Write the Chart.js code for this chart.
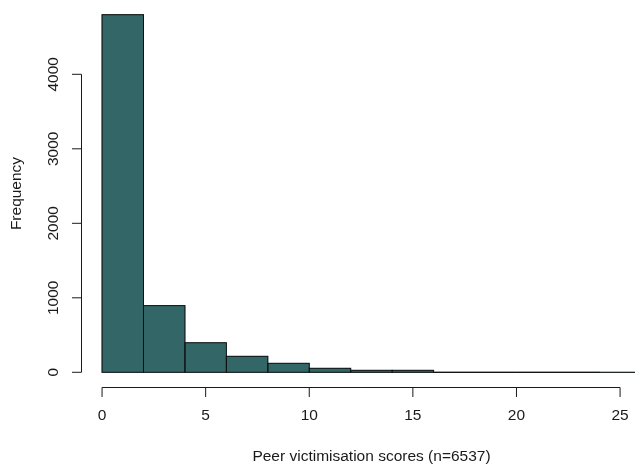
<!DOCTYPE html>
<html>
<head>
<meta charset="utf-8">
<title>Peer victimisation scores</title>
<script src="https://cdn.jsdelivr.net/npm/chart.js@4/dist/chart.umd.min.js"></script>
<style>
  html, body { margin: 0; padding: 0; background: #ffffff; overflow: hidden; }
  canvas { display: block; }
</style>
</head>
<body>
<canvas id="hist" width="635" height="471"></canvas>
<script>
// Histogram bins (lower/upper edges) and frequencies
const binEdges = [0, 2, 4, 6, 8, 10, 12, 14, 16, 18, 20, 22, 24, 26];
const frequencies = [4800, 895, 397, 215, 121, 54, 27, 27, 0, 0, 0, 0, 1];
const xTickValues = [0, 5, 10, 15, 20, 25];
const yTickValues = [0, 1000, 2000, 3000, 4000];
const xTitle = 'Peer victimisation scores (n=6537)';
const yTitle = 'Frequency';

const FONT = '15.5px "Liberation Sans", Arial, sans-serif';
const INK = '#1a1a1a';

const barPoints = frequencies.map((f, i) => ({
  x: (binEdges[i] + binEdges[i + 1]) / 2,
  y: f
}));

// Base-graphics style axes, bar outlines and titles
const histAxes = {
  id: 'histAxes',
  afterDatasetsDraw(chart) {
    const ctx = chart.ctx;
    const xs = chart.scales.x;
    const ys = chart.scales.y;
    const area = chart.chartArea;
    ctx.save();

    // bar outlines (zero-height bins show as a line on the baseline)
    ctx.strokeStyle = '#111111';
    ctx.lineWidth = 1;
    const base = ys.getPixelForValue(0);
    frequencies.forEach((f, i) => {
      const x0 = xs.getPixelForValue(binEdges[i]);
      const x1 = xs.getPixelForValue(binEdges[i + 1]);
      const top = ys.getPixelForValue(f);
      ctx.strokeRect(x0, top, x1 - x0, base - top);
    });

    ctx.strokeStyle = INK;
    ctx.fillStyle = INK;
    ctx.font = FONT;

    // y axis
    const ax = Math.round(area.left) + 0.5;
    const tick = 9.5;
    ctx.beginPath();
    ctx.moveTo(ax, ys.getPixelForValue(yTickValues[0]));
    ctx.lineTo(ax, ys.getPixelForValue(yTickValues[yTickValues.length - 1]));
    yTickValues.forEach(v => {
      const py = ys.getPixelForValue(v);
      ctx.moveTo(ax, py);
      ctx.lineTo(ax - tick, py);
    });
    ctx.stroke();
    ctx.textAlign = 'center';
    ctx.textBaseline = 'middle';
    yTickValues.forEach(v => {
      const py = ys.getPixelForValue(v);
      ctx.save();
      ctx.translate(ax - 28, py);
      ctx.rotate(-Math.PI / 2);
      ctx.fillText(String(v), 0, 0);
      ctx.restore();
    });

    // x axis
    const ay = Math.round(area.bottom) + 0.5;
    ctx.beginPath();
    ctx.moveTo(xs.getPixelForValue(xTickValues[0]), ay);
    ctx.lineTo(xs.getPixelForValue(xTickValues[xTickValues.length - 1]), ay);
    xTickValues.forEach(v => {
      const px = xs.getPixelForValue(v);
      ctx.moveTo(px, ay);
      ctx.lineTo(px, ay + tick);
    });
    ctx.stroke();
    xTickValues.forEach(v => {
      ctx.fillText(String(v), xs.getPixelForValue(v), ay + 28.5);
    });

    // axis titles
    ctx.fillText(xTitle, 371.5, 457);
    ctx.save();
    ctx.translate(17, (area.top + area.bottom) / 2);
    ctx.rotate(-Math.PI / 2);
    ctx.fillText(yTitle, 0, 0);
    ctx.restore();

    ctx.restore();
  }
};

new Chart(document.getElementById('hist'), {
  type: 'bar',
  data: {
    datasets: [{
      data: barPoints,
      backgroundColor: '#336666',
      borderWidth: 0,
      barPercentage: 1,
      categoryPercentage: 1
    }]
  },
  options: {
    responsive: false,
    devicePixelRatio: 1,
    animation: false,
    events: [],
    layout: { padding: { left: 80.5, right: 0, top: 0.4, bottom: 84.4 } },
    plugins: { legend: { display: false }, tooltip: { enabled: false } },
    scales: {
      x: {
        type: 'linear',
        display: false,
        offset: false,
        grid: { offset: false },
        min: -1.04,
        max: 25.72,
        afterBuildTicks: s => { s.ticks = xTickValues.map(v => ({ value: v })); }
      },
      y: {
        type: 'linear',
        display: false,
        min: -192,
        max: 4992
      }
    }
  },
  plugins: [histAxes]
});
</script>
</body>
</html>
